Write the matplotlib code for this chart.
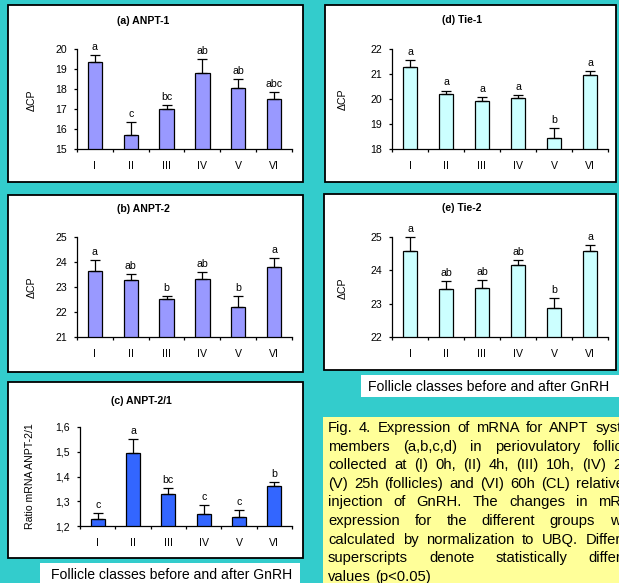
import matplotlib
matplotlib.use("Agg")
import matplotlib.pyplot as plt
from matplotlib.patches import Rectangle
import numpy as np

plt.rcParams['font.family'] = ['Liberation Sans', 'DejaVu Sans']

# ---------------- data ----------------
classes = ["I", "II", "III", "IV", "V", "VI"]

anpt1_vals = [19.33, 15.72, 16.98, 18.81, 18.04, 17.52]
anpt1_err = [0.37, 0.62, 0.20, 0.69, 0.45, 0.32]
anpt1_sig = ["a", "c", "bc", "ab", "ab", "abc"]

anpt2_vals = [23.65, 23.27, 22.51, 23.31, 22.20, 23.79]
anpt2_err = [0.42, 0.24, 0.14, 0.30, 0.43, 0.38]
anpt2_sig = ["a", "ab", "b", "ab", "b", "a"]

ratio_vals = [1.227, 1.494, 1.328, 1.247, 1.235, 1.360]
ratio_err = [0.027, 0.059, 0.024, 0.038, 0.028, 0.018]
ratio_sig = ["c", "a", "bc", "c", "c", "b"]

tie1_vals = [21.28, 20.19, 19.92, 20.04, 18.46, 20.97]
tie1_err = [0.26, 0.15, 0.15, 0.11, 0.39, 0.14]
tie1_sig = ["a", "a", "a", "a", "b", "a"]

tie2_vals = [24.59, 23.45, 23.48, 24.15, 22.87, 24.59]
tie2_err = [0.41, 0.22, 0.24, 0.17, 0.31, 0.17]
tie2_sig = ["a", "ab", "ab", "ab", "b", "a"]

xlabel_text = "Follicle classes before and after GnRH"
caption_lines = [
    "Fig. 4. Expression of mRNA for ANPT system",
    "members (a,b,c,d) in periovulatory follicles",
    "collected at (I) 0h, (II) 4h, (III) 10h, (IV) 20h,",
    "(V) 25h (follicles) and (VI) 60h (CL) relative to",
    "injection of GnRH. The changes in mRNA",
    "expression for the different groups were",
    "calculated by normalization to UBQ. Different",
    "superscripts denote statistically different",
    "values (p<0.05)",
]

# ---------------- layout helpers ----------------
W, H = 619, 583
fig = plt.figure(figsize=(W / 100, H / 100), dpi=100, facecolor="#33CCCC")


def fx(x):
    return x / W


def fy(y):
    return 1 - y / H


def box(x0, y0, x1, y1, fc="white", ec="black", lw=1.3):
    fig.patches.append(Rectangle((fx(x0), fy(y1)), fx(x1) - fx(x0), fy(y0) - fy(y1),
                                 transform=fig.transFigure, facecolor=fc,
                                 edgecolor=ec, linewidth=lw, zorder=-5))


def ftext(x, y, s, **kw):
    fig.text(fx(x), fy(y), s, **kw)


def panel(frame, axrect, title, title_xy, ylabel, ylabel_xy, vals, errs, sig,
          ylim, yticks, yticklabels, color):
    box(*frame)
    x0, y0, x1, y1 = axrect
    ax = fig.add_axes([fx(x0), fy(y1), fx(x1) - fx(x0), fy(y0) - fy(y1)])
    ax.set_facecolor("none")
    pos = np.arange(len(classes))
    ax.bar(pos, vals, width=0.4, color=color, edgecolor="black", linewidth=0.9,
           zorder=2)
    eb = ax.errorbar(pos, vals, yerr=[np.zeros(len(vals)), errs], fmt="none",
                     ecolor="black", elinewidth=0.9, capsize=3.3, capthick=0.9,
                     zorder=3)
    for art in list(eb.lines[1]) + list(eb.lines[2]):
        art.set_clip_on(False)
    for p, v, e, s in zip(pos, vals, errs, sig):
        ax.annotate(s, (p, v + e), xytext=(0, 2.2), textcoords="offset points",
                    ha="center", va="bottom", fontsize=7.6, annotation_clip=False)
    ax.set_xlim(-0.5, len(classes) - 0.5)
    ax.set_ylim(*ylim)
    ax.set_yticks(yticks)
    ax.set_yticklabels(yticklabels)
    ax.set_xticks(np.arange(-0.5, len(classes), 1.0))
    ax.set_xticklabels([])
    ax.set_xticks(pos, minor=True)
    ax.set_xticklabels(classes, minor=True)
    ax.tick_params(axis="x", which="major", direction="out", length=2.5,
                   width=0.9)
    ax.tick_params(axis="x", which="minor", length=0, pad=8.5, labelsize=7.6)
    ax.tick_params(axis="y", direction="out", length=2.5, width=0.9, pad=4.5,
                   labelsize=7.6)
    for sp in ("top", "right"):
        ax.spines[sp].set_visible(False)
    for sp in ("left", "bottom"):
        ax.spines[sp].set_linewidth(0.9)
    ax.spines["left"].set_zorder(4)
    ftext(title_xy[0], title_xy[1], title, ha="center", va="center",
          fontsize=7.6, fontweight="bold")
    ftext(ylabel_xy[0], ylabel_xy[1], ylabel, ha="center", va="center",
          rotation=90, fontsize=7.6)
    return ax


lav = "#9999FF"
cyan = "#CCFFFF"
blue = "#3366FF"

panel((8, 5, 303, 182), (77, 49, 292, 149), "(a) ANPT-1", (143, 21),
      "\u0394CP", (32, 100), anpt1_vals, anpt1_err, anpt1_sig,
      (15, 20), [15, 16, 17, 18, 19, 20], ["15", "16", "17", "18", "19", "20"], lav)

panel((8, 195, 303, 372), (77, 237, 292, 337), "(b) ANPT-2", (143, 209),
      "\u0394CP", (32, 287), anpt2_vals, anpt2_err, anpt2_sig,
      (21, 25), [21, 22, 23, 24, 25], ["21", "22", "23", "24", "25"], lav)

panel((8, 382, 303, 558), (80, 427, 292, 526), "(c) ANPT-2/1", (141, 401),
      "Ratio mRNA ANPT-2/1", (30, 476), ratio_vals, ratio_err, ratio_sig,
      (1.2, 1.6), [1.2, 1.3, 1.4, 1.5, 1.6], ["1,2", "1,3", "1,4", "1,5", "1,6"], blue)

panel((325, 5, 616, 182), (392, 49, 608, 149), "(d) Tie-1", (462, 20),
      "\u0394CP", (343, 99), tie1_vals, tie1_err, tie1_sig,
      (18, 22), [18, 19, 20, 21, 22], ["18", "19", "20", "21", "22"], cyan)

panel((324, 194, 616, 370), (392, 237, 608, 337), "(e) Tie-2", (462, 208),
      "\u0394CP", (343, 288), tie2_vals, tie2_err, tie2_sig,
      (22, 25), [22, 23, 24, 25], ["22", "23", "24", "25"], cyan)

# x-axis label boxes
box(40, 563, 300, 590, fc="white", ec="none", lw=0)
ftext(172, 575, xlabel_text, ha="center", va="center", fontsize=10.1)
box(361, 375, 625, 397, fc="white", ec="none", lw=0)
ftext(489, 387, xlabel_text, ha="center", va="center", fontsize=10.1)

# caption box with justified text
box(323, 417, 640, 600, fc="#FFFF99", ec="none", lw=0)
cap_left = 328
cap_width = 314
cap_top = 428
cap_step = 18.6
cap_fs = 10.6
renderer = fig.canvas.get_renderer()
space_txt = fig.text(0, 0, "a a", fontsize=cap_fs)
aa_txt = fig.text(0, 0, "aa", fontsize=cap_fs)
space_w = (space_txt.get_window_extent(renderer).width
           - aa_txt.get_window_extent(renderer).width)
space_txt.remove()
aa_txt.remove()
for i, line in enumerate(caption_lines):
    y = cap_top + i * cap_step
    words = line.split(" ")
    objs = [fig.text(0, fy(y), w, fontsize=cap_fs, va="center", ha="left")
            for w in words]
    widths = [o.get_window_extent(renderer).width for o in objs]
    if i < len(caption_lines) - 1 and len(words) > 1:
        gap = (cap_width - sum(widths)) / (len(words) - 1)
    else:
        gap = space_w
    x = cap_left
    for o, w in zip(objs, widths):
        o.set_x(fx(x))
        x += w + gap

fig.savefig("out.png", dpi=100, facecolor=fig.get_facecolor())
